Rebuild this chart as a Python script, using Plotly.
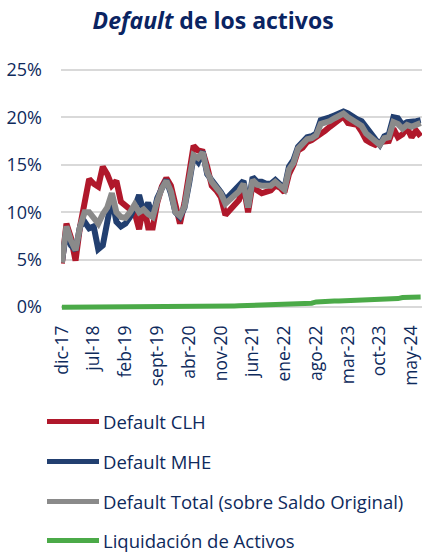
import plotly.graph_objects as go

# ---------------- data ----------------
MESES = ["ene", "feb", "mar", "abr", "may", "jun", "jul", "ago", "sept", "oct", "nov", "dic"]
months = ["dic-17"] + [f"{m}-{y}" for y in range(18, 25) for m in MESES][:79]

tick_labels = ["dic-17", "jul-18", "feb-19", "sept-19", "abr-20", "nov-20",
               "jun-21", "ene-22", "ago-22", "mar-23", "oct-23", "may-24"]

default_clh = [4.6, 8.8, 7.3, 4.9, 8.5, 11.5, 13.5, 13.0, 12.7, 14.8,
               14.0, 12.8, 13.3, 11.1, 10.6, 10.3, 10.0, 8.2, 10.8, 8.4,
               8.4, 11.0, 12.7, 13.6, 12.8, 10.5, 8.8, 11.0, 14.5, 17.0,
               16.5, 16.4, 14.8, 12.8, 12.3, 11.6, 9.7, 10.2, 10.9, 11.3,
               12.8, 10.0, 13.0, 12.3, 12.0, 12.2, 12.3, 12.8, 12.6, 12.1,
               14.0, 15.0, 16.5, 16.8, 17.4, 17.6, 17.9, 18.2, 18.6, 19.0,
               19.4, 19.7, 20.1, 19.4, 19.3, 19.2, 18.5, 17.6, 17.3, 17.1,
               17.4, 17.4, 17.5, 18.8, 17.9, 18.2, 18.9, 17.9, 18.6, 18.0]

default_mhe = [4.8, 8.0, 6.5, 6.0, 8.5, 9.0, 8.3, 8.5, 6.1, 6.5,
               9.0, 11.5, 9.0, 8.5, 8.8, 9.5, 10.5, 11.8, 10.0, 11.0,
               9.5, 11.5, 12.5, 13.4, 12.0, 10.0, 9.5, 10.5, 13.0, 15.9,
               15.3, 16.4, 14.0, 13.4, 12.8, 12.1, 11.3, 11.8, 12.3, 12.7,
               13.3, 10.6, 13.7, 13.2, 13.2, 13.0, 13.0, 13.4, 13.0, 12.5,
               14.8, 15.5, 16.9, 17.3, 17.9, 18.0, 18.3, 19.7, 19.8, 20.0,
               20.2, 20.4, 20.6, 20.4, 20.0, 19.8, 19.6, 18.9, 18.4, 17.7,
               17.1, 18.0, 18.2, 20.0, 19.9, 19.2, 19.5, 19.5, 19.6, 19.7]

default_total = [4.7, 8.5, 7.0, 6.0, 8.5, 10.0, 10.0, 9.3, 8.8, 9.8,
                 10.5, 12.0, 10.0, 9.5, 9.4, 10.0, 10.8, 10.0, 10.3, 9.8,
                 9.5, 11.2, 12.5, 13.3, 12.2, 10.0, 9.6, 10.6, 13.5, 16.0,
                 15.7, 16.3, 14.2, 13.2, 12.6, 12.0, 10.9, 11.3, 11.8, 12.2,
                 13.0, 10.5, 13.4, 12.9, 12.8, 12.8, 12.8, 13.2, 12.8, 12.4,
                 14.5, 15.2, 16.7, 17.1, 17.7, 17.8, 18.1, 19.3, 19.4, 19.6,
                 19.9, 20.1, 20.4, 20.0, 19.7, 19.5, 19.1, 18.3, 17.9, 17.4,
                 17.1, 17.8, 17.9, 19.5, 19.3, 18.8, 19.2, 19.0, 19.2, 19.4]

liquidacion = [0.00, 0.00, 0.00, 0.00, 0.00, 0.00, 0.00, 0.00, 0.00, 0.00,
               0.01, 0.01, 0.01, 0.01, 0.02, 0.02, 0.02, 0.02, 0.03, 0.03,
               0.03, 0.04, 0.04, 0.05, 0.05, 0.05, 0.06, 0.06, 0.07, 0.07,
               0.08, 0.08, 0.09, 0.09, 0.10, 0.10, 0.11, 0.12, 0.13, 0.14,
               0.15, 0.16, 0.17, 0.19, 0.21, 0.23, 0.25, 0.27, 0.29, 0.30,
               0.32, 0.34, 0.36, 0.38, 0.40, 0.42, 0.55, 0.60, 0.62, 0.63,
               0.64, 0.65, 0.66, 0.68, 0.70, 0.71, 0.72, 0.74, 0.76, 0.78,
               0.80, 0.82, 0.84, 0.86, 0.90, 1.02, 1.04, 1.05, 1.05, 1.06]

series_names = ["Default CLH", "Default MHE",
                "Default Total (sobre Saldo Original)", "Liquidación de Activos"]
series_values = [default_clh, default_mhe, default_total, liquidacion]
series_colors = ["#B0182B", "#223F70", "#8A8A8A", "#4BAA48"]
series_widths = [6, 6, 6, 5]

# ---------------- layout constants ----------------
W, H = 422, 554
ML, MR, MT, MB = 61, 0, 67, 244
TEXT = "#0E2A5C"
FONT = "Open Sans"

def px_x(px):
    return (px - ML) / (W - ML - MR)

def px_y(py):
    return (H - MB - py) / (H - MB - MT)

fig = go.Figure()
for name, vals, col, lw in zip(series_names, series_values, series_colors, series_widths):
    fig.add_trace(go.Scatter(
        x=months, y=vals, name=name, mode="lines",
        line=dict(color=col, width=lw), showlegend=False,
    ))

# manual legend (long line samples like the original)
legend_rows = [421.5, 461.5, 501.5, 540.5]
for name, col, row in zip(series_names, series_colors, legend_rows):
    fig.add_shape(type="line", xref="paper", yref="paper",
                  x0=px_x(47), x1=px_x(99), y0=px_y(row), y1=px_y(row),
                  line=dict(color=col, width=5))
    fig.add_annotation(text=name, xref="paper", yref="paper",
                       x=px_x(101), y=px_y(row), xanchor="left", yanchor="middle",
                       showarrow=False, font=dict(family=FONT, size=18.5, color=TEXT))

fig.update_layout(
    width=W, height=H,
    margin=dict(l=ML, r=MR, t=MT, b=MB, autoexpand=False),
    paper_bgcolor="white", plot_bgcolor="white",
    title=dict(text="<b><i>Default</i> de los activos</b>", x=0.505, xanchor="center",
               y=1 - 21 / H, yanchor="middle", yref="container",
               font=dict(family=FONT, size=23, color="#0A2462")),
    font=dict(family=FONT, color=TEXT),
    xaxis=dict(type="category", range=[-0.2, 79.3], tickmode="array",
               tickvals=tick_labels, ticktext=tick_labels, tickangle=-90,
               showgrid=False, zeroline=False, showline=False, ticks="",
               ticklabelstandoff=11, automargin=False,
               tickfont=dict(family=FONT, size=17.5, color=TEXT)),
    yaxis=dict(range=[-0.3, 25.3], tickvals=[0, 5, 10, 15, 20, 25],
               ticktext=["0%", "5%", "10%", "15%", "20%", "25%"],
               showgrid=True, gridcolor="#D9D9D9", gridwidth=2,
               zeroline=False, showline=False, ticks="",
               ticklabelstandoff=18, automargin=False,
               tickfont=dict(family=FONT, size=18, color=TEXT)),
)

fig.write_html("out.html", config={"displayModeBar": False},
               post_script="document.body.style.margin='0';")
